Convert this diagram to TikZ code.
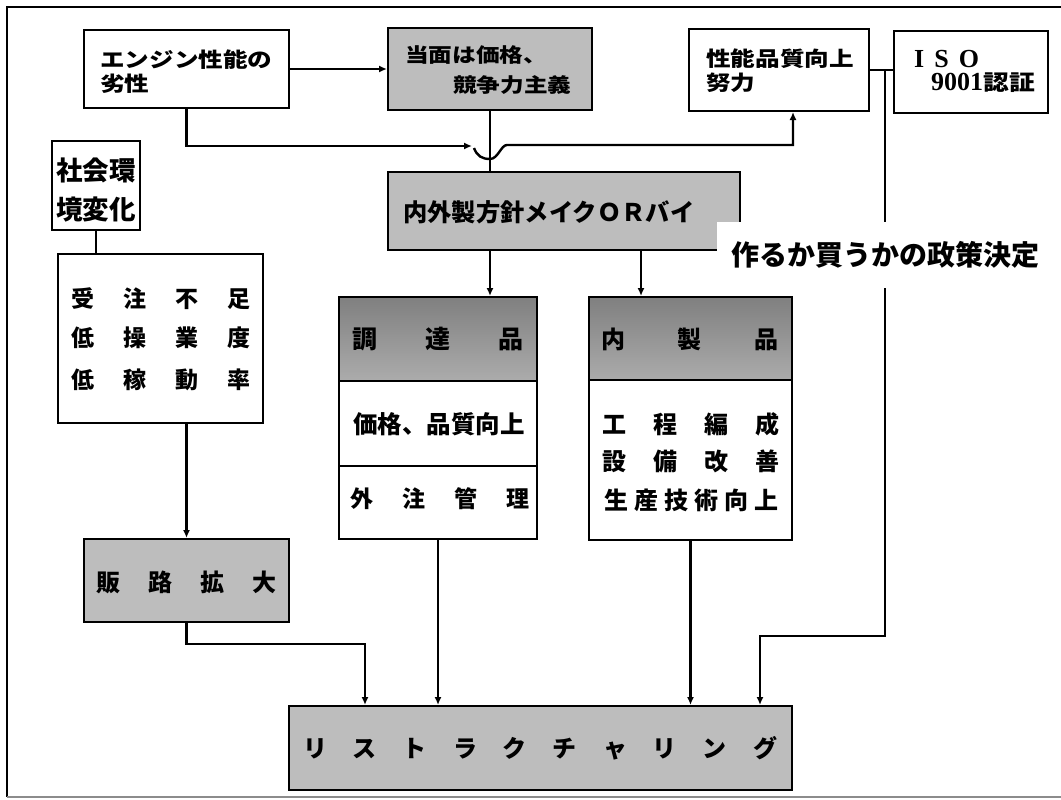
\documentclass[tikz,border=0pt]{standalone}
\usepackage{fontspec}
\newfontfamily\jp{Noto Sans CJK JP}
\newfontfamily\jpw[FakeStretch=1.2]{Noto Sans CJK JP}
\newfontfamily\lser{Liberation Serif}
\usetikzlibrary{arrows.meta}
\definecolor{shade}{gray}{0.74}
\newcommand\gp[1]{\hspace{#1pt}}
\tikzset{
  box/.style={draw, line width=2pt, inner sep=0pt},
  gbox/.style={box, fill=shade},
  txt/.style={inner sep=0pt, font=\jp\bfseries\fontsize{24}{28}\selectfont},
  txtw/.style={inner sep=0pt, font=\jpw\bfseries\fontsize{20.5}{24}\selectfont},
  lnk/.style={line width=2.4pt},
  arr/.style={lnk, -{Latex[length=8pt,width=7pt]}},
}
\begin{document}
\begin{tikzpicture}[x=1pt,y=-1pt]
\useasboundingbox (0,0) rectangle (1061,800);
% frame
\draw[line width=2pt] (1061,7) -- (7,7) -- (7,797);
\draw[line width=1.5pt, black!45] (7,797) -- (1061,797);

% boxes
\node[box, minimum width=205pt, minimum height=78pt] (eng) at (186.5,69) {};
\node[txtw, anchor=west] (eng1) at (100,60) {エンジン性能の};
\node[txtw, anchor=west] (eng2) at (100,84) {劣性};

\node[gbox, minimum width=204pt, minimum height=82pt] (toumen) at (490,69) {};
\node[txtw, font=\jpw\bfseries\fontsize{19.7}{24}\selectfont, anchor=west] (tm1) at (405,55) {当面は価格、};
\node[txtw, font=\jpw\bfseries\fontsize{19.7}{24}\selectfont, anchor=west] (tm2) at (453,85) {競争力主義};

\node[box, minimum width=180pt, minimum height=82pt] (seino) at (779,70) {};
\node[txtw, anchor=west] (sn1) at (706,59) {性能品質向上};
\node[txtw, anchor=west] (sn2) at (706,83) {努力};

\node[box, minimum width=154pt, minimum height=82pt] (iso) at (971,72) {};
\node[inner sep=0pt, anchor=west, font=\lser\bfseries\fontsize{26}{30}\selectfont] (iso1) at (914,59) {I\gp{10}S\gp{10}O};
\node[inner sep=0pt, anchor=west, font=\lser\bfseries\fontsize{26}{30}\selectfont] (iso2) at (931,83) {9001{\jpw\fontsize{21.5}{26}\selectfont 認証}};

\node[box, minimum width=88pt, minimum height=89pt] (shakai) at (96,185.5) {};
\node[txt, font=\jp\bfseries\fontsize{26.5}{30}\selectfont] (sk1) at (96,170) {社会環};
\node[txt, font=\jp\bfseries\fontsize{26.5}{30}\selectfont] (sk2) at (96,209) {境変化};

\node[box, minimum width=205pt, minimum height=169pt] (juchu) at (160.5,338.5) {};
\node[txt, font=\jp\bfseries\fontsize{23}{28}\selectfont] (jc1) at (161,299) {受\gp{29}注\gp{29}不\gp{29}足};
\node[txt, font=\jp\bfseries\fontsize{23}{28}\selectfont] (jc2) at (161,338) {低\gp{29}操\gp{29}業\gp{29}度};
\node[txt, font=\jp\bfseries\fontsize{23}{28}\selectfont] (jc3) at (161,380) {低\gp{29}稼\gp{29}動\gp{29}率};

\node[gbox, minimum width=352pt, minimum height=78pt] (naigai) at (564,211) {};
\node[txt, font=\jp\bfseries\fontsize{24.3}{28}\selectfont, anchor=west] (ng) at (403,212) {内外製方針メイクＯＲバイ};

\node[box, minimum width=198pt, minimum height=242pt,
  path picture={\fill[shade] (path picture bounding box.north west) rectangle ([yshift=-84pt]path picture bounding box.north east);
    \draw[line width=2pt] ([yshift=-84pt]path picture bounding box.north west) -- ([yshift=-84pt]path picture bounding box.north east);
    \draw[line width=1.6pt] ([yshift=-169pt]path picture bounding box.north west) -- ([yshift=-169pt]path picture bounding box.north east);}
  ] (chotatsu) at (438,418) {};
\node[txt, font=\jp\bfseries\fontsize{25}{28}\selectfont] (ch1) at (438,339) {調\gp{48}達\gp{48}品};
\node[txt, font=\jp\bfseries\fontsize{24.5}{28}\selectfont] (ch2) at (439,424) {価格、品質向上};
\node[txt, font=\jp\bfseries\fontsize{23}{28}\selectfont] (ch3) at (440,499) {外\gp{29}注\gp{29}管\gp{29}理};

\node[box, minimum width=203pt, minimum height=243pt,
  path picture={\fill[shade] (path picture bounding box.north west) rectangle ([yshift=-83pt]path picture bounding box.north east);
    \draw[line width=2pt] ([yshift=-83pt]path picture bounding box.north west) -- ([yshift=-83pt]path picture bounding box.north east);}
  ] (naisei) at (690.5,418.5) {};
\node[txt] (ns1) at (690,339) {内\gp{53}製\gp{53}品};
\node[txt] (ns2) at (691,424) {工\gp{27}程\gp{27}編\gp{27}成};
\node[txt] (ns3) at (691,461) {設\gp{27}備\gp{27}改\gp{27}善};
\node[txt] (ns4) at (691,500) {生\gp{6}産\gp{6}技\gp{6}術\gp{6}向\gp{6}上};

\node[gbox, minimum width=205pt, minimum height=83pt] (hanro) at (186.5,580.5) {};
\node[txt] (hr) at (186.5,582) {販\gp{28}路\gp{28}拡\gp{28}大};

\node[gbox, minimum width=503pt, minimum height=84pt] (restr) at (540.5,748) {};
\node[txt] (rs) at (540,748) {リ\gp{26}ス\gp{26}ト\gp{26}ラ\gp{26}ク\gp{26}チ\gp{26}ャ\gp{26}リ\gp{26}ン\gp{26}グ};

% connectors
\coordinate (jl) at (472,146);
\coordinate (jlc) at (474,148);
\coordinate (j) at (490,159);
\coordinate (jr) at (507,145);
\draw[arr] (eng.east) -- (eng.east -| toumen.west);
\draw[lnk] (toumen.south) -- (toumen.south |- naigai.north);
\draw[arr] (eng.south) |- (jl);
\draw[lnk] (jlc) .. controls (477,156) and (482,159) .. (j);
\draw[arr] (j) .. controls (498,159) and (501,145) .. (jr) -| ([xshift=14pt]seino.south);

\draw[lnk] (seino.east) -- (seino.east -| iso.west);
\coordinate (iv) at (885,71);
\coordinate (ib) at (885,636);
\coordinate (ic) at (760,636);
\draw[arr] (iv) -- (ib) -- (ic) -- (ic |- restr.north);

\draw[lnk] (shakai.south) -- (shakai.south |- juchu.north);
\draw[arr] (hanro.north |- juchu.south) -- (hanro.north);
\coordinate (hc) at (365,644);
\draw[arr] (hanro.south) |- (hc) -- (hc |- restr.north);

\draw[arr] (naigai.south -| toumen.south) -- (chotatsu.north -| toumen.south);
\coordinate (nx) at (641,0);
\draw[arr] (naigai.south -| nx) -- (naisei.north -| nx);
\draw[arr] (chotatsu.south) -- (chotatsu.south |- restr.north);
\draw[arr] (naisei.south) -- (naisei.south |- restr.north);

% label
\node[fill=white, inner xsep=14pt, inner ysep=0pt, minimum height=66pt, anchor=west,
  font=\jp\bfseries\fontsize{28}{32}\selectfont] (kettei) at (717,255) {作るか買うかの政策決定};
\end{tikzpicture}
\end{document}
